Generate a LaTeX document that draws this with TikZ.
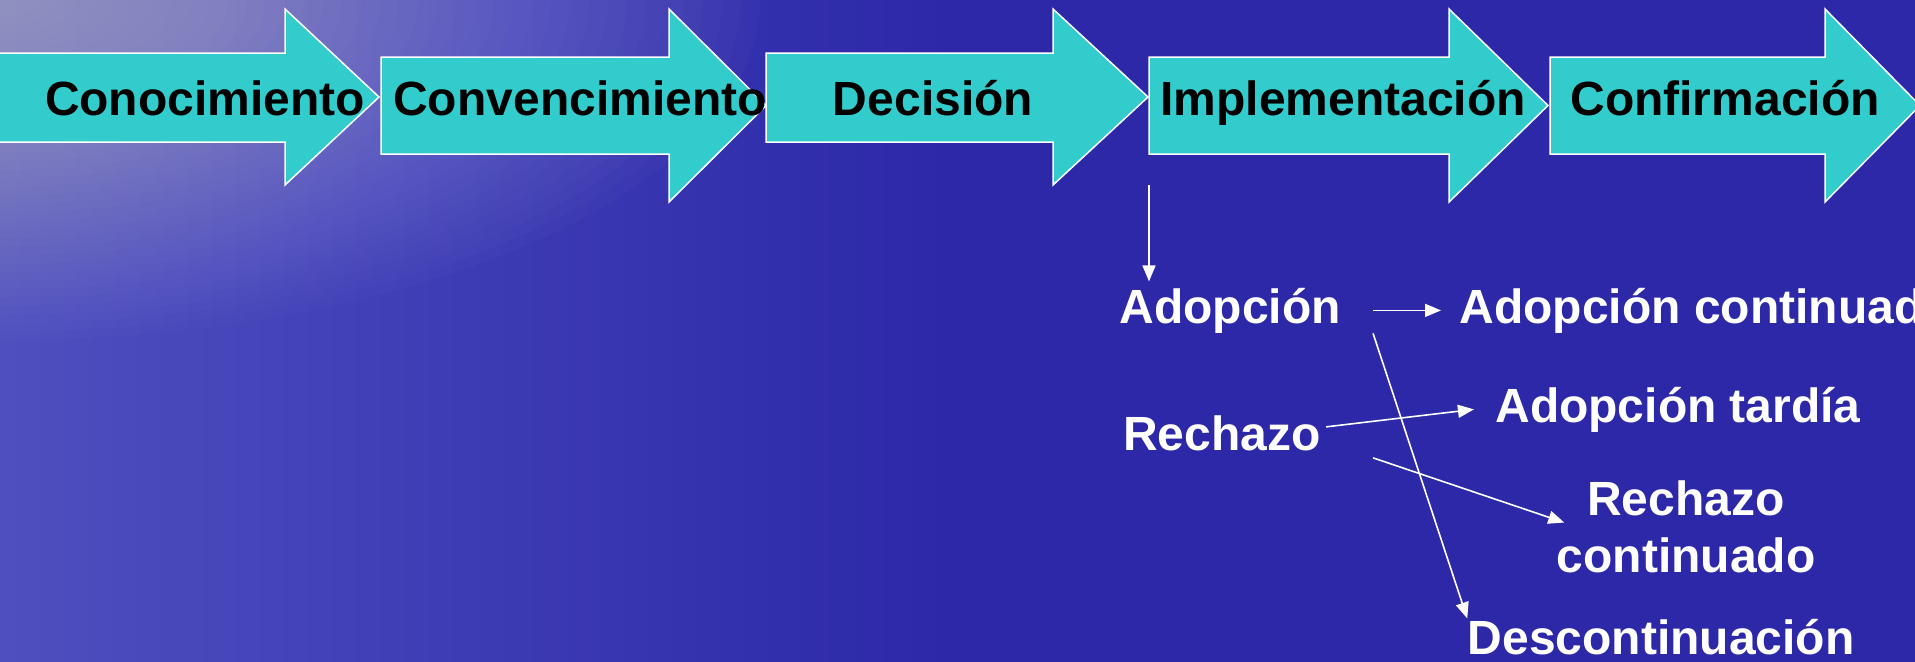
\documentclass[tikz,border=0pt]{standalone}
\usepackage{fontspec}
\setmainfont{Liberation Sans}
\usetikzlibrary{arrows.meta}

\definecolor{stagecyan}{RGB}{51,204,204}
\definecolor{seablue}{RGB}{44,40,168}
\definecolor{seaside}{RGB}{80,80,192}

\begin{document}
\begin{tikzpicture}[x=0.5pt, y=-0.5pt,
  stage/.style={fill=stagecyan, draw=white, line width=0.75pt},
  stagetext/.style={font=\fontsize{24}{28.5}\selectfont\bfseries, inner sep=0pt, anchor=base},
  outtext/.style={stagetext, text=white},
  flow/.style={draw=white, line width=0.8pt, -{Triangle[length=8pt,width=6.5pt]}}]
 \path[use as bounding box, clip] (0,0) rectangle (1915,661);
 \fill[seablue] (-20,-20) rectangle (1935,681);
 \shade[left color=seaside, right color=seablue] (-20,-20) rectangle (950,681);
 \foreach \k in {1,...,40}
   \fill[white, opacity=0.015] (0,0) ellipse ({19*\k} and {8.5*\k});

 \foreach \l/\h/\t in {-10/285/379, 766/1053/1148}
   \draw[stage] (\l,53) -- (\h,53) -- (\h,9) -- (\t,97) -- (\h,185) -- (\h,142) -- (\l,142) -- cycle;
 \foreach \l/\h/\t in {381/669/766, 1149/1449/1548, 1550/1825/1920}
   \draw[stage] (\l,57) -- (\h,57) -- (\h,9) -- (\t,105.5) -- (\h,202) -- (\h,154) -- (\l,154) -- cycle;

 \node (con) [stagetext] at (205,115) {Conocimiento};
 \node (conv) [stagetext] at (580,115) {Convencimiento};
 \node (dec) [stagetext] at (933,115) {Decisión};
 \node (impl) [stagetext] at (1343,115) {Implementación};
 \node (conf) [stagetext] at (1725,115) {Confirmación};

 \coordinate (split) at (1149,185);
 \node (ado) [outtext] at (1230,323) {Adopción};
 \node (adocont) [outtext, anchor=base west] at (1459,323) {Adopción continuado};
 \node (rech) [outtext] at (1222,450) {Rechazo};
 \node (adtard) [outtext] at (1678,422) {Adopción tardía};
 \node (rcont) [outtext, align=center, anchor=north] at (1686,480) {Rechazo\\continuado};
 \node (desc) [outtext] at (1661,654) {Descontinuación};

 \draw[flow, shorten >=3pt] (split) -- (split |- ado.north);
 \draw[flow, shorten <=16pt, shorten >=9pt] (ado.east) -- (adocont.west);
 \draw[flow] ([xshift=16pt]ado.south east) -- (desc.north west);
 \draw[flow] ([xshift=2.5pt,yshift=3pt]rech.east) -- ([xshift=-10.5pt]adtard.west);
 \draw[flow] ([xshift=26pt,yshift=-3.5pt]rech.south east) -- ([xshift=4pt,yshift=2pt]rcont.west);
\end{tikzpicture}
\end{document}
